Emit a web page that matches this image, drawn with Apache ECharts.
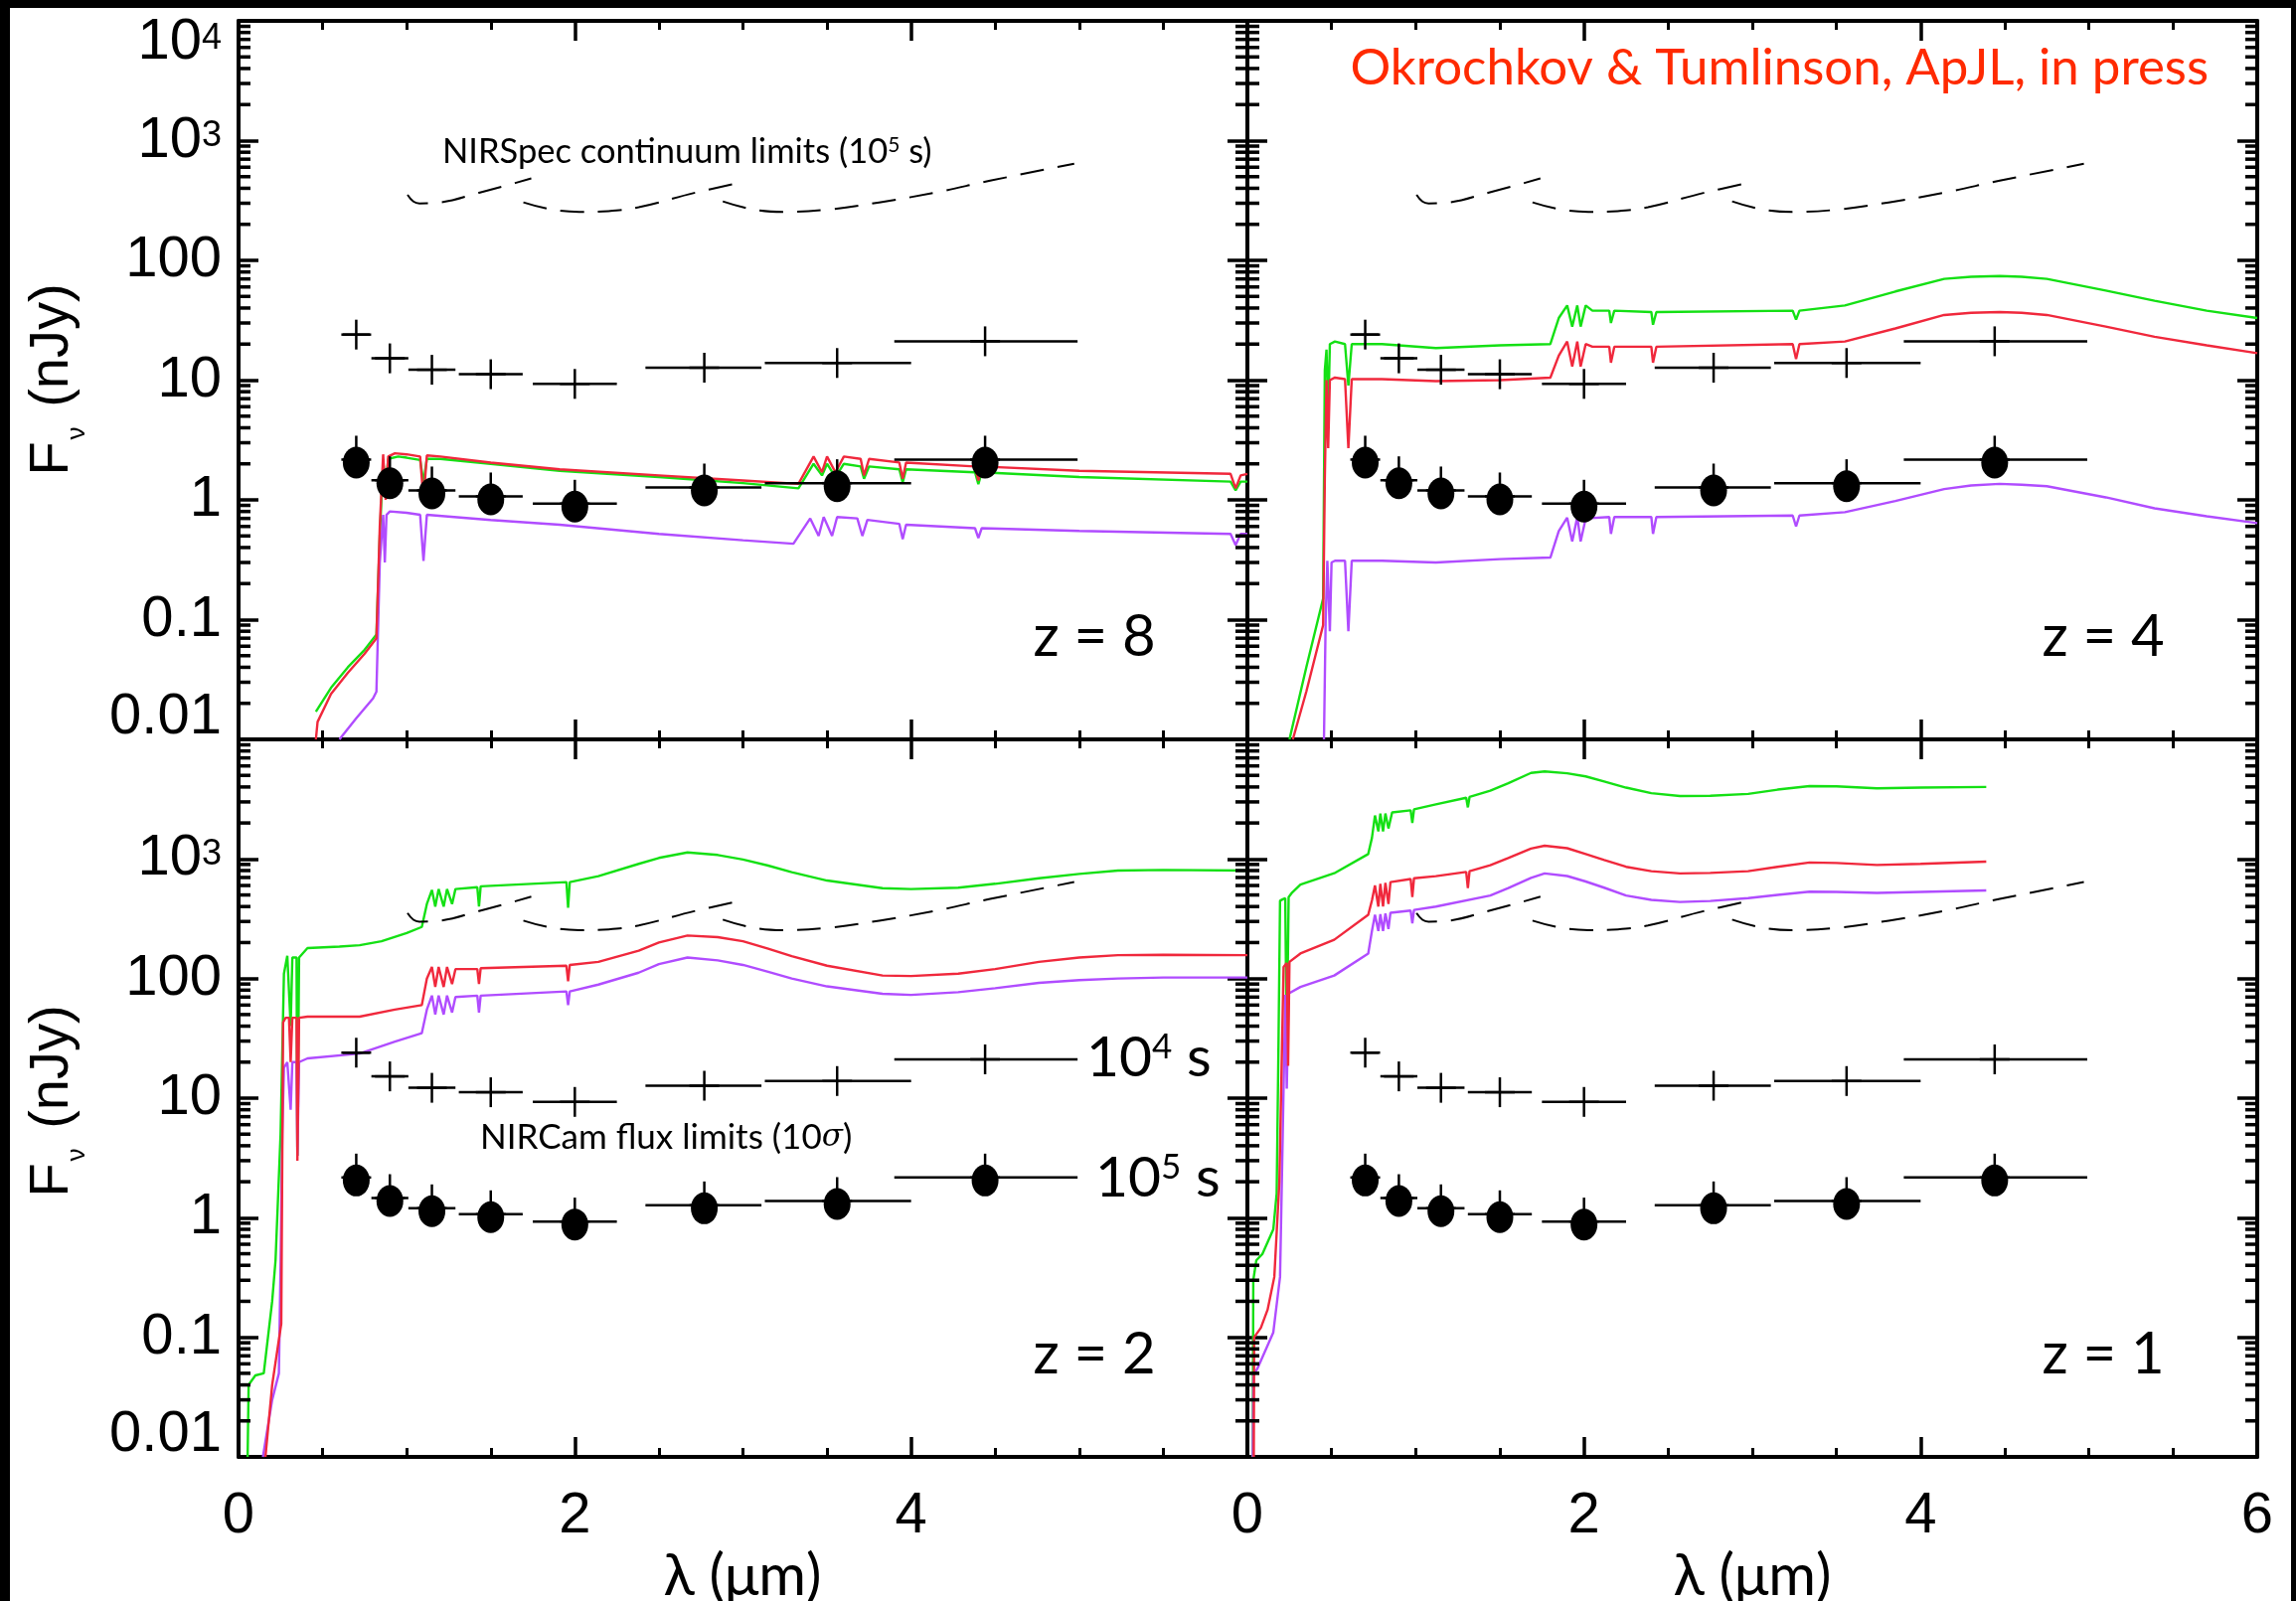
<!DOCTYPE html>
<html><head><meta charset="utf-8">
<script src="https://cdn.jsdelivr.net/npm/echarts@6/dist/echarts.min.js"></script>
<style>html,body{margin:0;padding:0;background:#fff}#c{width:2310px;height:1611px}</style>
</head><body><div id="c"></div><script>
// ---------------- DATA ----------------
const panelLabels = ['z = 8', 'z = 4', 'z = 2', 'z = 1'];

// NIRCam filters: centre, lower and upper edge (micron)
const filterLam = [0.70, 0.90, 1.15, 1.50, 2.00, 2.77, 3.56, 4.44];
const filterLo  = [0.62, 0.79, 1.01, 1.31, 1.75, 2.42, 3.13, 3.90];
const filterHi  = [0.78, 1.01, 1.29, 1.69, 2.25, 3.11, 4.00, 4.99];
// 10-sigma flux limits (nJy)
const limit1e4s = [24.0, 15.2, 12.2, 11.2, 9.3, 12.7, 13.9, 21.1];
const limit1e5s = [2.17, 1.46, 1.20, 1.07, 0.93, 1.27, 1.38, 2.17];

// NIRSpec continuum limits (10^5 s), three gratings
const nirspecSeg1 = [[1.005, 353], [1.04, 310], [1.076, 299], [1.2, 305], [1.43, 367], [1.6, 425], [1.741, 484]];
const nirspecSeg2 = [[1.694, 305], [1.85, 268], [2.026, 254], [2.2, 258], [2.38, 278], [2.71, 366], [3.0, 451]];
const nirspecSeg3 = [[2.88, 311], [3.05, 268], [3.24, 254], [3.5, 265], [3.81, 305], [4.15, 370], [4.47, 463], [4.97, 641]];

// Model spectra (lambda micron, F_nu nJy)
const z8Green = [[0.46,0.017],[0.55,0.027],[0.65,0.04],[0.75,0.056],[0.82,0.075],[0.84,0.5],[0.86,2.1],[0.875,1.3],[0.89,2.2],[0.95,2.3],[1.0,2.25],[1.08,2.15],[1.1,1.4],[1.12,2.2],[1.2,2.2],[1.5,2.0],[1.91,1.75],[2.5,1.55],[3.0,1.38],[3.33,1.25],[3.42,2.0],[3.47,1.6],[3.5,2.0],[3.55,1.55],[3.6,2.0],[3.7,1.9],[3.72,1.5],[3.75,1.9],[3.93,1.8],[3.95,1.4],[3.97,1.8],[4.38,1.7],[4.4,1.35],[4.42,1.7],[5.0,1.55],[5.9,1.42],[5.93,1.2],[5.96,1.42],[6.0,1.42]];
const z8Red = [[0.46,0.01],[0.47,0.014],[0.55,0.024],[0.65,0.036],[0.75,0.052],[0.82,0.07],[0.84,0.6],[0.86,2.4],[0.875,1.0],[0.89,2.3],[0.93,2.45],[1.0,2.4],[1.08,2.3],[1.1,1.0],[1.12,2.35],[1.2,2.3],[1.5,2.05],[1.91,1.8],[2.5,1.6],[3.0,1.45],[3.33,1.36],[3.42,2.3],[3.47,1.7],[3.5,2.3],[3.55,1.7],[3.6,2.3],[3.7,2.2],[3.72,1.6],[3.75,2.2],[3.93,2.05],[3.95,1.5],[3.97,2.05],[4.38,1.9],[4.4,1.45],[4.42,1.9],[5.0,1.75],[5.9,1.65],[5.93,1.25],[5.96,1.6],[6.0,1.65]];
const z8Purple = [[0.6,0.01],[0.7,0.015],[0.8,0.022],[0.82,0.025],[0.84,0.3],[0.86,0.75],[0.87,0.3],[0.88,0.75],[0.9,0.8],[1.0,0.78],[1.08,0.75],[1.1,0.31],[1.12,0.75],[1.5,0.68],[1.91,0.62],[2.5,0.52],[3.0,0.46],[3.3,0.43],[3.4,0.7],[3.45,0.5],[3.48,0.72],[3.53,0.5],[3.56,0.72],[3.68,0.7],[3.71,0.5],[3.74,0.68],[3.93,0.63],[3.95,0.47],[3.97,0.62],[4.38,0.58],[4.4,0.48],[4.42,0.58],[5.0,0.55],[5.9,0.52],[5.93,0.42],[5.96,0.52],[6.0,0.52]];

const z4Green = [[0.25,0.01],[0.35,0.04],[0.45,0.15],[0.46,12],[0.47,18],[0.48,5],[0.49,20],[0.52,21],[0.58,20],[0.6,9],[0.62,20],[0.8,20],[1.12,18.5],[1.5,19.5],[1.8,20],[1.85,33],[1.9,42],[1.93,28],[1.96,42],[1.98,28],[2.01,42],[2.05,38],[2.15,38],[2.16,30],[2.18,38],[2.4,37],[2.41,29],[2.43,37],[3.24,38],[3.26,32],[3.28,38],[3.55,42],[3.85,55],[4.14,70],[4.3,73],[4.47,74],[4.6,73],[4.75,70],[5.1,56],[5.39,46],[5.7,38],[6.0,33]];
const z4Red = [[0.27,0.01],[0.35,0.025],[0.45,0.09],[0.46,1.5],[0.47,10],[0.48,2.7],[0.49,10],[0.52,10.5],[0.58,10.2],[0.6,2.7],[0.62,10.2],[0.8,10.2],[1.12,9.8],[1.5,10],[1.8,10.5],[1.85,16],[1.9,21],[1.93,13],[1.96,21],[1.98,13],[2.01,20],[2.05,19],[2.15,19],[2.16,14],[2.18,19],[2.4,19],[2.41,14],[2.43,19],[3.24,20],[3.26,15],[3.28,20],[3.55,21],[3.85,27],[4.14,35],[4.3,36.5],[4.47,37],[4.6,36.5],[4.75,35],[5.1,28],[5.39,23],[5.7,19.5],[6.0,16.8]];
const z4Purple = [[0.455,0.01],[0.465,0.1],[0.475,0.31],[0.49,0.08],[0.5,0.3],[0.52,0.31],[0.58,0.31],[0.6,0.08],[0.62,0.31],[0.8,0.31],[1.12,0.30],[1.5,0.32],[1.8,0.33],[1.85,0.55],[1.9,0.71],[1.93,0.45],[1.96,0.72],[1.98,0.45],[2.01,0.7],[2.15,0.72],[2.16,0.52],[2.18,0.72],[2.4,0.72],[2.41,0.52],[2.43,0.72],[3.24,0.74],[3.26,0.6],[3.28,0.74],[3.55,0.79],[3.85,0.98],[4.14,1.23],[4.3,1.32],[4.47,1.36],[4.6,1.34],[4.75,1.3],[5.1,1.05],[5.39,0.85],[5.7,0.73],[6.0,0.64]];

const z2Green = [[0.054,0.01],[0.06,0.04],[0.1,0.048],[0.15,0.05],[0.2,0.2],[0.22,0.44],[0.25,5],[0.27,110],[0.29,155],[0.3,155],[0.31,40],[0.32,150],[0.345,150],[0.35,3.3],[0.36,150],[0.41,180],[0.6,185],[0.72,190],[0.85,205],[1.0,240],[1.09,270],[1.12,420],[1.15,550],[1.17,400],[1.19,560],[1.22,400],[1.24,560],[1.27,420],[1.29,560],[1.42,580],[1.43,400],[1.44,590],[1.95,640],[1.96,390],[1.97,640],[2.14,718],[2.38,910],[2.5,1020],[2.67,1135],[2.85,1080],[3.0,990],[3.15,880],[3.29,776],[3.5,660],[3.83,570],[4.0,560],[4.28,575],[4.5,620],[4.76,690],[5.0,750],[5.23,800],[5.5,810],[6.0,800]];
const z2Red = [[0.16,0.01],[0.2,0.04],[0.254,0.13],[0.265,43],[0.28,47],[0.3,47],[0.31,20],[0.32,47],[0.345,47],[0.35,3.0],[0.36,47],[0.41,48],[0.72,48],[0.93,55],[1.09,60],[1.12,100],[1.15,125],[1.17,85],[1.19,125],[1.22,85],[1.24,125],[1.27,90],[1.29,120],[1.42,120],[1.43,90],[1.44,122],[1.95,128],[1.96,95],[1.97,130],[2.14,138],[2.38,171],[2.5,200],[2.67,229],[2.85,222],[3.0,205],[3.15,178],[3.29,154],[3.5,128],[3.83,106],[4.0,105],[4.28,110],[4.5,120],[4.76,138],[5.0,150],[5.23,157],[5.5,158],[6.0,157]];
const z2Purple = [[0.145,0.01],[0.2,0.03],[0.24,0.05],[0.25,0.4],[0.26,5],[0.27,18],[0.29,20],[0.3,20],[0.31,8],[0.32,20],[0.345,20],[0.35,3.3],[0.36,20],[0.41,21.5],[0.72,23.6],[0.93,29.7],[1.09,35],[1.12,55],[1.15,72],[1.17,50],[1.19,72],[1.22,50],[1.24,72],[1.27,52],[1.29,70],[1.42,72],[1.43,52],[1.44,72],[1.95,78],[1.96,60],[1.97,78],[2.14,89],[2.38,112],[2.5,132],[2.67,150],[2.85,142],[3.0,130],[3.15,114],[3.29,100],[3.5,86],[3.83,74.5],[4.0,73],[4.28,77],[4.5,83],[4.76,92],[5.0,97],[5.23,100],[5.5,102],[6.0,102]];

const z1Green = [[0.032,0.01],[0.035,0.3],[0.053,0.44],[0.09,0.5],[0.154,0.8],[0.174,1.6],[0.185,30],[0.194,447],[0.21,460],[0.225,470],[0.234,25],[0.245,480],[0.266,525],[0.315,610],[0.516,760],[0.718,1100],[0.74,1500],[0.758,2310],[0.778,1700],[0.79,2400],[0.806,1700],[0.82,2400],[0.838,1800],[0.86,2450],[0.97,2550],[0.98,2000],[0.99,2600],[1.12,2860],[1.30,3250],[1.31,2700],[1.32,3300],[1.443,3720],[1.55,4300],[1.685,5240],[1.766,5400],[1.9,5200],[2.01,4900],[2.12,4450],[2.25,3950],[2.4,3550],[2.57,3360],[2.75,3380],[2.975,3500],[3.15,3800],[3.34,4070],[3.5,4050],[3.74,3900],[4.0,3950],[4.39,4000]];
const z1Red = [[0.038,0.01],[0.04,0.1],[0.08,0.12],[0.12,0.17],[0.16,0.32],[0.19,2],[0.215,125],[0.234,135],[0.242,18.6],[0.25,138],[0.315,162],[0.516,211],[0.718,341],[0.74,450],[0.758,600],[0.778,400],[0.79,620],[0.806,400],[0.82,630],[0.838,420],[0.85,640],[0.97,680],[0.98,480],[0.99,690],[1.12,718],[1.30,780],[1.31,570],[1.32,790],[1.443,888],[1.55,1020],[1.685,1222],[1.766,1290],[1.9,1230],[2.01,1100],[2.12,980],[2.25,860],[2.4,790],[2.57,757],[2.75,765],[2.975,790],[3.15,860],[3.34,935],[3.5,925],[3.74,890],[4.0,910],[4.39,950]];
const z1Purple = [[0.032,0.01],[0.036,0.048],[0.06,0.055],[0.154,0.11],[0.194,0.32],[0.21,5],[0.225,73],[0.234,12],[0.245,75],[0.315,85],[0.516,106],[0.718,162],[0.74,250],[0.758,341],[0.778,250],[0.79,345],[0.806,250],[0.82,350],[0.838,260],[0.85,355],[0.97,370],[0.98,290],[0.99,375],[1.12,400],[1.443,495],[1.55,570],[1.685,695],[1.766,757],[1.9,720],[2.01,648],[2.12,575],[2.25,495],[2.4,455],[2.57,437],[2.75,445],[2.975,470],[3.15,500],[3.34,532],[3.5,530],[3.74,520],[4.0,530],[4.39,545]];

const spectra = [
  [z8Green, z8Red, z8Purple],
  [z4Green, z4Red, z4Purple],
  [z2Green, z2Red, z2Purple],
  [z1Green, z1Red, z1Purple]
];

// ---------------- STYLE / LAYOUT ----------------
const GREEN = '#14e014', RED = '#f0283c', PURPLE = '#b04cff';
const lineColors = [GREEN, RED, PURPLE];
const grids = [
  {left: 240, top: 21, width: 1015, height: 723},
  {left: 1255, top: 21, width: 1016, height: 723},
  {left: 240, top: 744, width: 1015, height: 722},
  {left: 1255, top: 744, width: 1016, height: 722}
];
const tickFont = 'Liberation Sans';
const annFont = 'Lato';

// minor tick values for the log axes (2..9 x each decade)
const minorVals = [];
for (let e = -2; e < 4; e++) for (let m = 2; m <= 9; m++) minorVals.push([0, m * Math.pow(10, e)]);

const limData1 = filterLam.map((l, i) => [l, limit1e4s[i], filterLo[i], filterHi[i]]);
const limData2 = filterLam.map((l, i) => [l, limit1e5s[i], filterLo[i], filterHi[i]]);
const dotData = filterLam.map((l, i) => [l, limit1e5s[i]]);

function yFmt(v) {
  const e = Math.round(Math.log10(v));
  if (e >= 3) return '{b|10}{s|' + e + '}';
  return '{b|' + (e >= 0 ? String(Math.pow(10, e)) : v.toFixed(-e)) + '}';
}

const xAxes = [], yAxes = [];
grids.forEach((g, gi) => {
  const bottomRow = gi >= 2;
  ['bottom', 'top'].forEach(pos => {
    xAxes.push({
      type: 'value', gridIndex: gi, position: pos, min: 0, max: 6, interval: 2,
      axisLine: {show: true, onZero: false, lineStyle: {color: '#000', width: 4}},
      axisTick: {show: true, inside: true, length: 20, lineStyle: {color: '#000', width: 3.5}},
      minorTick: {show: true, splitNumber: 4, length: 9, lineStyle: {color: '#000', width: 3}},
      splitLine: {show: false}, minorSplitLine: {show: false},
      axisLabel: {show: bottomRow && pos === 'bottom', margin: 31, color: '#000', fontFamily: tickFont, fontSize: 58,
        showMaxLabel: gi === 3, showMinLabel: true}
    });
  });
  ['left', 'right'].forEach(pos => {
    const showLab = pos === 'left' && (gi === 0 || gi === 2);
    yAxes.push({
      type: 'log', logBase: 10, gridIndex: gi, position: pos, min: 0.01, max: 10000, splitNumber: 6,
      axisLine: {show: true, onZero: false, lineStyle: {color: '#000', width: 4}},
      axisTick: {show: true, inside: true, length: 20, lineStyle: {color: '#000', width: 3.5}},
      splitLine: {show: false},
      axisLabel: {show: showLab, margin: 17, color: '#000', formatter: yFmt,
        showMaxLabel: gi === 0, showMinLabel: true,
        verticalAlignMinLabel: 'bottom', verticalAlignMaxLabel: 'top',
        rich: {
          b: {fontFamily: tickFont, fontSize: 58, lineHeight: 44, color: '#000'},
          s: {fontFamily: tickFont, fontSize: 36, lineHeight: 30, color: '#000', verticalAlign: 'top'}
        }}
    });
  });
});

function makeLimitRenderer(upArm, downArm) {
  return function (params, api) {
    const c = api.coord([api.value(0), api.value(1)]);
    const lo = api.coord([api.value(2), api.value(1)]);
    const hi = api.coord([api.value(3), api.value(1)]);
    const arm = 15;
    const st = {stroke: '#000', lineWidth: 2.5};
    return {type: 'group', children: [
      {type: 'line', shape: {x1: lo[0], y1: c[1], x2: hi[0], y2: c[1]}, style: st},
      {type: 'line', shape: {x1: c[0] - arm, y1: c[1], x2: c[0] + arm, y2: c[1]}, style: st},
      {type: 'line', shape: {x1: c[0], y1: c[1] - upArm, x2: c[0], y2: c[1] + downArm}, style: st}
    ]};
  };
}
function renderMinor(params, api) {
  const v = api.value(1);
  const l = api.coord([0, v]), r = api.coord([6, v]);
  const st = {stroke: '#000', lineWidth: 3.5};
  return {type: 'group', children: [
    {type: 'line', shape: {x1: l[0], y1: l[1], x2: l[0] + 12, y2: l[1]}, style: st},
    {type: 'line', shape: {x1: r[0] - 12, y1: r[1], x2: r[0], y2: r[1]}, style: st}
  ]};
}

const series = [];
grids.forEach((g, gi) => {
  const xi = gi * 2, yi = gi * 2;
  spectra[gi].forEach((d, k) => {
    series.push({type: 'line', xAxisIndex: xi, yAxisIndex: yi, data: d, showSymbol: false, symbol: 'none',
      lineStyle: {color: lineColors[k], width: 2.4}, z: 2 + (k === 1 ? 0.5 : 0), clip: true, silent: true});
  });
  [nirspecSeg1, nirspecSeg2, nirspecSeg3].forEach(d => {
    series.push({type: 'line', xAxisIndex: xi, yAxisIndex: yi, data: d, showSymbol: false, symbol: 'none', smooth: 0.4,
      lineStyle: {color: '#000', width: 2, type: [24, 14]}, z: 3, clip: true, silent: true});
  });
  series.push({type: 'custom', xAxisIndex: xi, yAxisIndex: yi, data: limData1, renderItem: makeLimitRenderer(15, 15),
    encode: {x: [0, 2, 3], y: 1}, z: 5, silent: true});
  series.push({type: 'custom', xAxisIndex: xi, yAxisIndex: yi, data: limData2, renderItem: makeLimitRenderer(24, 12),
    encode: {x: [0, 2, 3], y: 1}, z: 5, silent: true});
  series.push({type: 'scatter', xAxisIndex: xi, yAxisIndex: yi, data: dotData, symbol: 'circle',
    symbolSize: [27, 32], symbolOffset: [0, 3], itemStyle: {color: '#000', opacity: 1}, z: 6, silent: true});
  series.push({type: 'custom', xAxisIndex: xi, yAxisIndex: yi, data: minorVals, renderItem: renderMinor,
    encode: {x: 0, y: 1}, z: 7, silent: true});
});

const zPos = [[1101, 641], [2116, 641], [1101, 1363], [2116, 1363]];
const graphic = [
  {type: 'rect', shape: {x: 0, y: 0, width: 2310, height: 8}, style: {fill: '#000'}, z: 100},
  {type: 'rect', shape: {x: 0, y: 0, width: 10, height: 1611}, style: {fill: '#000'}, z: 100},
  {type: 'rect', shape: {x: 2305, y: 0, width: 5, height: 1611}, style: {fill: '#000'}, z: 100},
  {type: 'text', x: 2222, y: 69, z: 50, style: {text: 'Okrochkov & Tumlinson, ApJL, in press', fill: '#ff2a00',
    font: '51px ' + annFont, align: 'right', verticalAlign: 'middle'}},
  {type: 'text', x: 445, y: 153, z: 50, style: {text: '{a|NIRSpec continuum limits (10}{s|5}{a| s)}',
    align: 'left', verticalAlign: 'middle',
    rich: {a: {fontFamily: annFont, fontSize: 34.5, color: '#000'},
           s: {fontFamily: annFont, fontSize: 21, color: '#000', verticalAlign: 'top'}}}},
  {type: 'text', x: 483, y: 1145, z: 50, style: {text: '{a|NIRCam flux limits (10}{i|σ}{a|)}',
    align: 'left', verticalAlign: 'middle',
    rich: {a: {fontFamily: annFont, fontSize: 35, color: '#000'},
           i: {fontFamily: 'DejaVu Serif', fontStyle: 'italic', fontSize: 31, color: '#000'}}}},
  {type: 'text', x: 1093, y: 1065, z: 50, style: {text: '{a|10}{s|4}{a| s}', align: 'left', verticalAlign: 'middle',
    rich: {a: {fontFamily: annFont, fontSize: 57, color: '#000'}, s: {fontFamily: annFont, fontSize: 35, color: '#000', verticalAlign: 'top'}}}},
  {type: 'text', x: 1102, y: 1186, z: 50, style: {text: '{a|10}{s|5}{a| s}', align: 'left', verticalAlign: 'middle',
    rich: {a: {fontFamily: annFont, fontSize: 57, color: '#000'}, s: {fontFamily: annFont, fontSize: 35, color: '#000', verticalAlign: 'top'}}}}
];
zPos.forEach((p, i) => graphic.push({type: 'text', x: p[0], y: p[1], z: 50,
  style: {text: panelLabels[i], font: '58px ' + annFont, fill: '#000', align: 'center', verticalAlign: 'middle'}}));
[[747, 1586], [1763, 1586]].forEach(p => graphic.push({type: 'text', x: p[0], y: p[1], z: 50,
  style: {text: 'λ (μm)', font: '58px ' + annFont, fill: '#000', align: 'center', verticalAlign: 'middle'}}));
[[54, 382], [54, 1108]].forEach(p => graphic.push({type: 'text', x: p[0], y: p[1], rotation: Math.PI / 2, z: 50,
  style: {text: '{a|F}{s|ν}{a| (nJy)}', align: 'center', verticalAlign: 'middle',
    rich: {a: {fontFamily: 'Liberation Sans', fontSize: 56, color: '#000', verticalAlign: 'top', lineHeight: 58},
           s: {fontFamily: 'Liberation Sans', fontSize: 26, color: '#000', lineHeight: 26, padding: [48, 4, 0, 2]}}}}));

const chart = echarts.init(document.getElementById('c'), null, {renderer: 'canvas'});
chart.setOption({
  animation: false,
  backgroundColor: '#ffffff',
  grid: grids.map(g => Object.assign({containLabel: false}, g)),
  xAxis: xAxes,
  yAxis: yAxes,
  series: series,
  graphic: graphic
});
</script></body></html>
